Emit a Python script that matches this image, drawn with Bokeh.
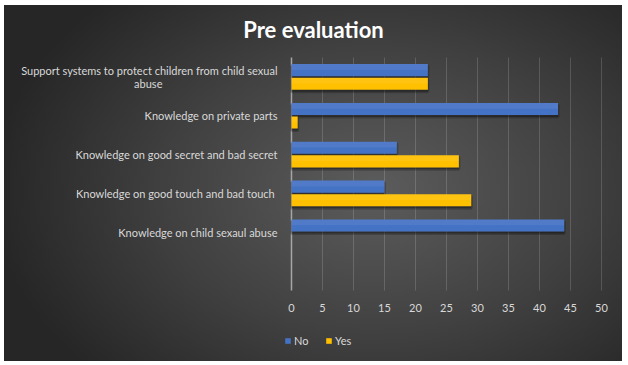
from bokeh.plotting import figure
from bokeh.models import (Range1d, Legend, LegendItem, ColumnDataSource,
                          CDSView, BooleanFilter)
from bokeh.transform import dodge
from bokeh.core.properties import value
from bokeh.embed import file_html
from bokeh.resources import INLINE

title_text = "Pre evaluation"
categories = ["Support systems to protect children from child sexual\nabuse",
              "Knowledge on private parts",
              "Knowledge on good secret and bad secret",
              "Knowledge on good touch  and bad touch",
              "Knowledge on child sexaul abuse",
              ""]
no_values = [22, 43, 17, 15, 44, 0]
yes_values = [22, 1, 27, 29, 0, 0]
series = ["No", "Yes"]
colors = ["#4472C4", "#FFC000"]
x_ticks = [0, 5, 10, 15, 20, 25, 30, 35, 40, 45, 50]

FONT = value("Lato")
TXT = "#d9d9d9"
n = len(categories)
# slot centre of each category, counted from the bottom of the value area
pos = [n - 1 - i + 0.5 for i in range(n)]

p = figure(width=628, height=365,
           x_range=Range1d(-46.29, 53.39), y_range=Range1d(-1.828, 7.339),
           output_backend="svg", toolbar_location=None,
           min_border_left=4, min_border_right=6, min_border_top=5, min_border_bottom=4)
p.axis.visible = False
p.grid.visible = False
p.border_fill_color = None
p.background_fill_color = None
p.outline_line_color = None
p.styles = {
    "background-color": "#ffffff",
    "background-image": "radial-gradient(ellipse 62% 75% at 60% 52%, #5c5c5c 0%, #404040 55%, #262626 100%)",
    "background-size": "618px 356px",
    "background-position": "4px 5px",
    "background-repeat": "no-repeat",
}

# vertical grid lines and value axis line
p.segment(x0=x_ticks[1:], x1=x_ticks[1:], y0=0, y1=n,
          line_color="#ffffff", line_alpha=0.16, line_width=1)
p.segment(x0=[0], x1=[0], y0=0, y1=n, line_color="#a6a6a6", line_width=1.5)

# tick labels
p.text(x=x_ticks, y=-0.46, text=[str(t) for t in x_ticks], text_align="center",
       text_baseline="middle", text_color=TXT, text_font=FONT, text_font_size="11px")

# bars
src = ColumnDataSource(dict(pos=pos, No=no_values, Yes=yes_values))
offsets = [0.175, -0.175]
renderers = []
for name, col, off in zip(series, colors, offsets):
    view = CDSView(filter=BooleanFilter([v > 0 for v in src.data[name]]))
    p.hbar(y=dodge("pos", off - 0.05), left=0, right=name, height=0.31,
           source=src, view=view, fill_color="black", fill_alpha=0.3,
           line_color="black", line_alpha=0.2, line_width=3)
    r = p.hbar(y=dodge("pos", off), left=0, right=name, height=0.31,
               source=src, fill_color=col, line_color=None)
    p.hbar(y=dodge("pos", off + 0.08), left=0, right=name, height=0.15,
           source=src, view=view, fill_color="white", fill_alpha=0.07, line_color=None)
    renderers.append(r)

# category labels (right aligned next to the value axis)
lab_x, lab_y, lab_t, lab_a = [], [], [], []
for cat, yc in zip(categories, pos):
    lines = cat.split("\n")
    if len(lines) == 1:
        lab_x.append(-2.26); lab_y.append(yc); lab_t.append(cat); lab_a.append("right")
    else:
        lab_x.append(-2.26); lab_y.append(yc + 0.167); lab_t.append(lines[0]); lab_a.append("right")
        lab_x.append(-23.1); lab_y.append(yc - 0.18); lab_t.append(lines[1]); lab_a.append("center")
p.text(x=lab_x, y=lab_y, text=lab_t, text_align=lab_a, text_baseline="middle",
       text_color=TXT, text_font=FONT, text_font_size="11px")

# title
p.text(x=[3.55], y=[6.72], text=[title_text], text_align="center", text_baseline="middle",
       text_color="#ffffff", text_font=FONT, text_font_style="bold", text_font_size="22px")

legend = Legend(items=[LegendItem(label=s, renderers=[r]) for s, r in zip(series, renderers)],
                orientation="horizontal", location=(280, 14),
                glyph_width=7, glyph_height=7, label_height=7, label_standoff=3,
                spacing=11, padding=0, margin=0, border_line_color=None,
                background_fill_alpha=0, label_text_color=TXT, label_text_font="Lato",
                label_text_font_size="11px")
p.add_layout(legend, "center")

open("out.html", "w").write(file_html(p, INLINE))
